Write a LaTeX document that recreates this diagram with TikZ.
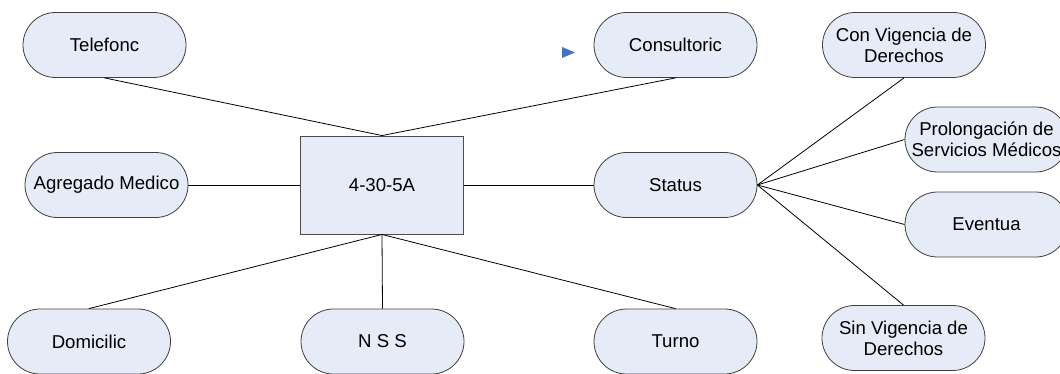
\documentclass[tikz,border=0pt]{standalone}
\usepackage{fontspec}
\setmainfont{Liberation Sans}
\begin{document}
\begin{tikzpicture}[x=1pt,y=1pt,
  every node/.style={font=\fontsize{18.6}{21}\selectfont, text=black, align=center, inner sep=0pt},
  pill/.style={draw=black!75, fill=nodefill, line width=0.8pt, rounded corners=32.5pt,
    minimum width=163pt, minimum height=65pt},
  hub/.style={draw=black!70, fill=nodefill, line width=0.9pt,
    minimum width=163pt, minimum height=98pt},
  link/.style={draw=black, line width=0.8pt}]
\definecolor{nodefill}{RGB}{230,236,247}
\definecolor{marker}{RGB}{68,114,196}
\useasboundingbox (0,0) rectangle (1060,373);
\clip (0,0) rectangle (1060,373);

% central record
\node[hub] (hub) at (382,188) {4-30-5A};

% attributes of the record
\node[pill] (tel)  at (104.5,328)  {Telefonc};
\node[pill] (cons) at (675.5,328)  {Consultoric};
\node[pill] (agr)  at (106.5,188)  {Agregado Medico};
\node[pill] (stat) at (675.5,188)  {Status};
\node[pill] (dom)  at (89,31.5)    {Domicilic};
\node[pill] (nss)  at (382.5,31.5) {N S S};
\node[pill] (tur)  at (675.5,31.5) {Turno};

% status values
\node[pill] (cvd)  at (904,328)    {Con Vigencia de\\Derechos};
\node[pill] (psm)  at (986.5,233.5) {Prolongación de\\Servicios Médicos};
\node[pill] (eve)  at (986.5,148.5) {Eventua};
\node[pill] (svd)  at (903.5,35)   {Sin Vigencia de\\Derechos};

% connectors
\draw[link] (tel.south) -- (hub.north);
\draw[link] (cons.south) -- (hub.north);
\draw[link] (agr.east) -- (hub.west);
\draw[link] (hub.east) -- (stat.west);
\draw[link] (hub.south) -- (dom.north);
\draw[link] (hub.south) -- (nss.north);
\draw[link] (hub.south) -- (tur.north);
\draw[link] (stat.east) -- (cvd.south);
\draw[link] (stat.east) -- (psm.west);
\draw[link] (stat.east) -- (eve.west);
\draw[link] (stat.east) -- (svd.north);

% small blue pointer
\fill[marker] (562,326) -- (562,315) -- (575,320.5) -- cycle;
\end{tikzpicture}
\end{document}
